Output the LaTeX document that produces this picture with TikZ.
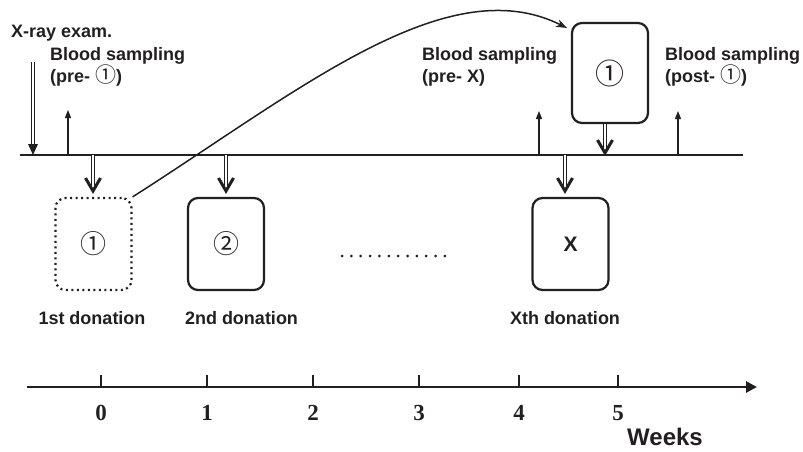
\documentclass[tikz,border=0pt]{standalone}
\usepackage{fontspec}
\setmainfont{Liberation Sans}
\newfontfamily\cjkfont{Noto Sans CJK JP}
\newfontfamily\serifnum{Liberation Serif}
\usetikzlibrary{arrows.meta,calc}
\definecolor{ink}{HTML}{231F20}
\newcommand\circnum[2]{{\cjkfont\mdseries\fontsize{#1}{#1}\selectfont #2}}
\begin{document}
\begin{tikzpicture}[x=1pt,y=-1pt,
  lbl/.style={font=\fontsize{18}{22}\selectfont\bfseries, text=ink, inner sep=0pt, align=left},
  boxnode/.style={draw=ink, line width=2.2pt, rounded corners=10pt, minimum width=76pt, minimum height=92pt, inner sep=0pt, text=ink},
  dotbox/.style={boxnode, dash pattern=on 2pt off 3.5pt},
  thinarr/.style={draw=ink, line width=1.3pt, -{Triangle[length=8pt,width=6pt]}},
  dblshaft/.style={draw=ink, line width=0.9pt, double=white, double distance=1.8pt},
  chevron/.style={draw=ink, line width=3pt, line join=miter},
  tickmark/.style={draw=ink, line width=1.3pt},
  numlbl/.style={font=\serifnum\bfseries\fontsize{23}{23}\selectfont, text=ink, anchor=base, inner sep=0pt}
]
\useasboundingbox (0,0) rectangle (803,452);

% timeline
\coordinate (tl0) at (20,155);
\coordinate (tl1) at (743,155);
\draw[ink, line width=2.2pt] (tl0) -- (tl1);

% points on timeline
\coordinate (x0) at (33,155);
\coordinate (s1) at (68,155);
\coordinate (d1) at (93,155);
\coordinate (d2) at (226,155);
\coordinate (s2) at (539,155);
\coordinate (dx) at (565,155);
\coordinate (dt) at (605,155);
\coordinate (s3) at (678,155);

% boxes
\node[dotbox] (b1) at (93.5,244) {\circnum{26}{①}};
\node[boxnode] (b2) at (226,244) {\circnum{26}{②}};
\node[boxnode, font=\bfseries\fontsize{21}{21}\selectfont] (bx) at (570.5,244) {X};
\node[boxnode, minimum height=100pt] (bt) at (610,73) {\circnum{29}{①}};

% X-ray exam
\node[lbl, anchor=base west] (xray) at (11,38) {X-ray exam.};
\coordinate (xtop) at (33,62);
\draw[dblshaft, shorten >=9pt] (xtop) -- (x0);
\fill[ink] (x0) -- ($(x0)+(-5,-11)$) -- ($(x0)+(5,-11)$) -- cycle;

% blood sampling labels and arrows
\node[lbl, anchor=base west] (bs1) at (50,82) {Blood sampling\\(pre- \circnum{21}{①})};
\node[lbl, anchor=base west] (bs2) at (422,82) {Blood sampling\\(pre- X)};
\node[lbl, anchor=base west] (bs3) at (665,82) {Blood sampling\\(post- \circnum{21}{①})};
\coordinate (s1t) at (68,110);
\coordinate (s2t) at (539,111);
\coordinate (s3t) at (678,111);
\draw[thinarr] (s1) -- (s1t);
\draw[thinarr] (s2) -- (s2t);
\draw[thinarr] (s3) -- (s3t);

% double arrows with chevron heads
\coordinate (d1t) at (93,191);
\coordinate (d2t) at (226,191);
\coordinate (dxt) at (565,191);
\coordinate (dtt) at (605,153);
\coordinate (dts) at (dt |- bt.south);
\draw[dblshaft, shorten >=4pt] (d1) -- (d1t);
\draw[chevron] ($(d1t)+(-7.5,-13)$) -- (d1t) -- ($(d1t)+(7.5,-13)$);
\draw[dblshaft, shorten >=4pt] (d2) -- (d2t);
\draw[chevron] ($(d2t)+(-7.5,-13)$) -- (d2t) -- ($(d2t)+(7.5,-13)$);
\draw[dblshaft, shorten >=4pt] (dx) -- (dxt);
\draw[chevron] ($(dxt)+(-7.5,-13)$) -- (dxt) -- ($(dxt)+(7.5,-13)$);
\draw[dblshaft, shorten >=4pt] (dts) -- (dtt);
\draw[chevron] ($(dtt)+(-7.5,-13)$) -- (dtt) -- ($(dtt)+(7.5,-13)$);

% curved arrow
\coordinate (cend) at (567,28);
\draw[ink, line width=1.5pt, -{Stealth[length=11pt,width=8pt]}] (b1.north east) .. controls (300,90) and (447,-32) .. (cend);

% dotted ellipsis
\foreach \i in {0,...,11} \fill[ink] (342+\i*9.36,256) circle (1.5);

% donation labels
\node[lbl, anchor=base] (l1) at (92,324) {1st donation};
\node[lbl, anchor=base] (l2) at (241.5,324) {2nd donation};
\node[lbl, anchor=base] (lx) at (565,324) {Xth donation};

% week axis
\coordinate (ax0) at (27,387);
\coordinate (ax1) at (757,387);
\draw[ink, line width=2.8pt, -{Triangle[length=11pt,width=11pt]}] (ax0) -- (ax1);
\foreach \x/\l in {101/0,207/1,313/2,419/3,519/4,618/5} {
  \coordinate (tk\l) at (\x,387);
  \draw[tickmark] (tk\l) -- ($(tk\l)+(0,-12)$);
  \node[numlbl] (n\l) at (\x,420) {\l};
}
\node[font=\bfseries\fontsize{24}{25}\selectfont, text=ink, anchor=base west, inner sep=0pt] (weeks) at (627,445) {Weeks};
\end{tikzpicture}
\end{document}
